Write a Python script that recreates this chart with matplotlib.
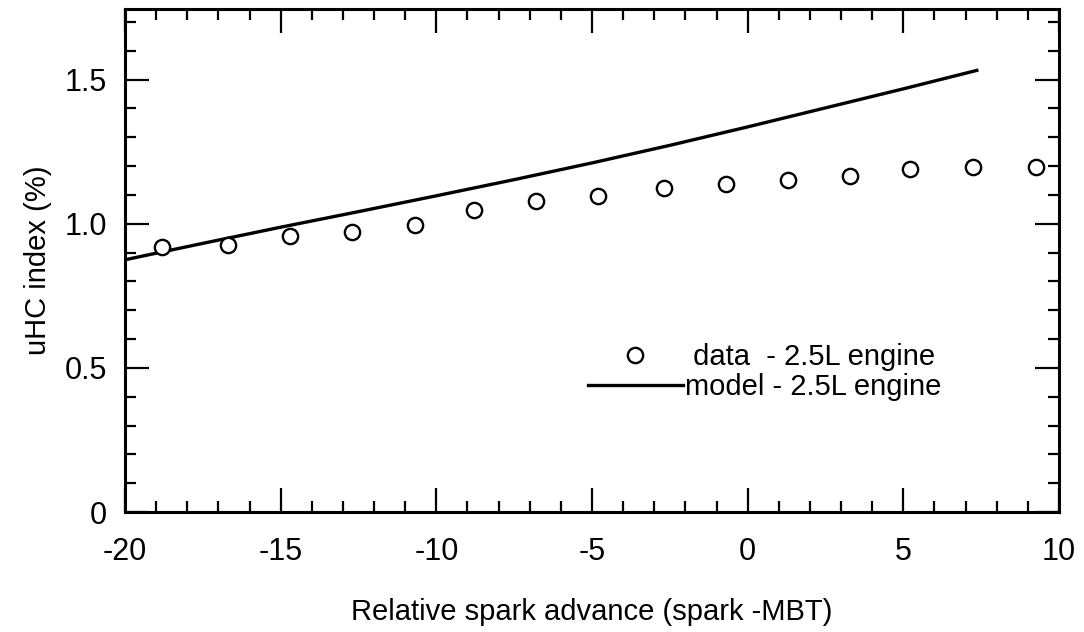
import matplotlib
matplotlib.use("Agg")
import matplotlib.pyplot as plt
from matplotlib.ticker import FixedLocator, FixedFormatter, MultipleLocator

plt.rcParams['font.family'] = ['Liberation Sans', 'DejaVu Sans']

# data points (circles)
data_x = [-18.8, -16.7, -14.7, -12.7, -10.7, -8.8, -6.8, -4.8, -2.7, -0.7, 1.3, 3.3, 5.2, 7.25, 9.25]
data_y = [0.921, 0.925, 0.958, 0.971, 0.994, 1.049, 1.080, 1.097, 1.123, 1.138, 1.153, 1.164, 1.191, 1.197, 1.197]

# model curve
model_x = [-20.0, -17.5, -15.0, -12.5, -10.0, -7.5, -5.0, -2.5, 0.0, 2.5, 5.0, 7.36]
model_y = [0.875, 0.932, 0.988, 1.042, 1.097, 1.153, 1.211, 1.272, 1.336, 1.402, 1.468, 1.532]

x_ticks = [-20, -15, -10, -5, 0, 5, 10]
x_labels = ['-20', '-15', '-10', '-5', '0', '5', '10']
y_ticks = [0, 0.5, 1.0, 1.5]
y_labels = ['0', '0.5', '1.0', '1.5']

fig = plt.figure(figsize=(10.84, 6.32), dpi=100)
ax = fig.add_axes([125/1084, 1 - 512/632, (1059-125)/1084, (512-9)/632])

ax.plot(model_x, model_y, color='black', lw=2.4, solid_joinstyle='round',
        label='model - 2.5L engine')
ax.plot(data_x, data_y, linestyle='none', marker='o', markersize=11,
        markerfacecolor='white', markeredgecolor='black', markeredgewidth=1.7,
        label=' data  - 2.5L engine')

ax.set_xlim(-20, 10)
ax.set_ylim(0, 1.745)

ax.xaxis.set_major_locator(FixedLocator(x_ticks))
ax.xaxis.set_major_formatter(FixedFormatter(x_labels))
ax.yaxis.set_major_locator(FixedLocator(y_ticks))
ax.yaxis.set_major_formatter(FixedFormatter(y_labels))
ax.xaxis.set_minor_locator(MultipleLocator(1))
ax.yaxis.set_minor_locator(MultipleLocator(0.1))

ax.tick_params(which='both', direction='in', top=True, right=True, width=1.6, colors='black')
ax.tick_params(which='major', length=17, labelsize=22)
ax.tick_params(axis='x', which='major', pad=18)
ax.tick_params(axis='y', which='major', pad=13)
ax.tick_params(which='minor', length=8)
for s in ax.spines.values():
    s.set_linewidth(2.2)

ax.set_xlabel('Relative spark advance (spark -MBT)', fontsize=21, labelpad=22)
ax.set_ylabel('uHC index (%)', fontsize=21, labelpad=9)

handles, labels = ax.get_legend_handles_labels()
leg = ax.legend([handles[1], handles[0]], [labels[1], labels[0]],
                loc='upper left', bbox_to_anchor=((588-125)/934, (512-343)/503),
                frameon=False, fontsize=21, handlelength=3.25, handletextpad=0.08,
                labelspacing=0.08, borderaxespad=0, borderpad=0)

fig.savefig('out.png', dpi=100)
